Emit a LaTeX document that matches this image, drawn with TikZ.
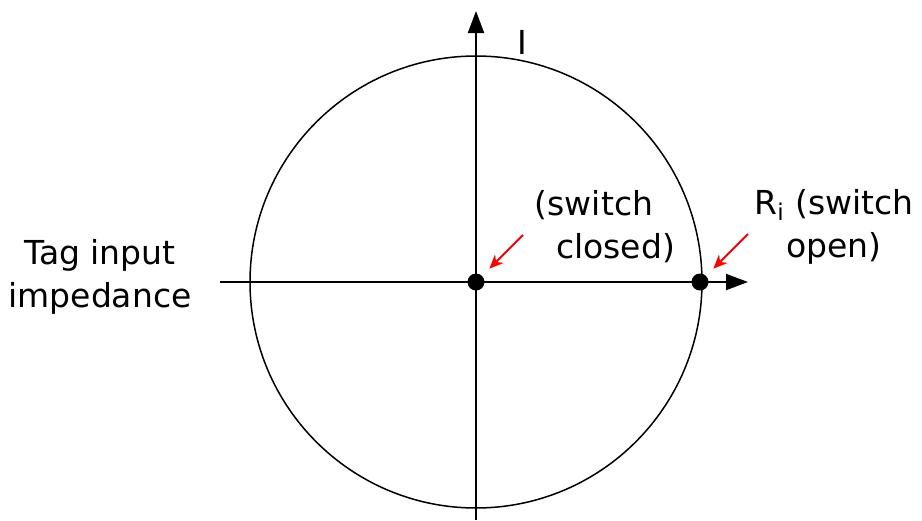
\documentclass[tikz,border=0pt]{standalone}
\usepackage{fontspec}
\setmainfont{DejaVu Sans}
\usetikzlibrary{arrows.meta, positioning}

\begin{document}
\begin{tikzpicture}[
  x=0.5pt, y=-0.5pt,
  every node/.style={font=\fontsize{16.5}{21.5}\selectfont, inner sep=0pt},
  axis/.style={line width=1pt, -{Triangle[length=11pt, width=8pt]}},
  dot/.style={circle, fill=black, minimum size=8.5pt, inner sep=0pt},
  pointer/.style={red, line width=1pt, shorten >=5pt, -{Stealth[length=7pt, width=6pt]}},
  caption/.style={align=center},
]
\useasboundingbox (0,0) rectangle (922,520);

% Axes
\coordinate (o) at (476,282);
\coordinate (xl) at (220,282);
\coordinate (xr) at (748,282);
\coordinate (yb) at (476,520);
\coordinate (yt) at (476,11);
\draw[axis] (xl) -- (xr);
\draw[axis] (yb) -- (yt);

% Reflection circle
\draw[line width=0.75pt] (o) circle[radius=226];

% Impedance states
\node[dot] (closed) at (o) {};
\node[dot] (open) at (700,282) {};

% Labels
\node (imag) at (522,42) {I};
\node[caption] (tag) at (100,277) {Tag input\\impedance};
\node[caption] (closedtxt) at (594,227) {(switch\\\hspace*{1.3em}closed)};
\node[caption] (opentxt) at (834,227) {R\textsubscript{i} (switch\\open)};

% Pointers
\coordinate (pc) at (523,235);
\coordinate (po) at (748,234);
\draw[pointer] (pc) -- (closed.north east);
\draw[pointer] (po) -- (open.north east);

\end{tikzpicture}
\end{document}
